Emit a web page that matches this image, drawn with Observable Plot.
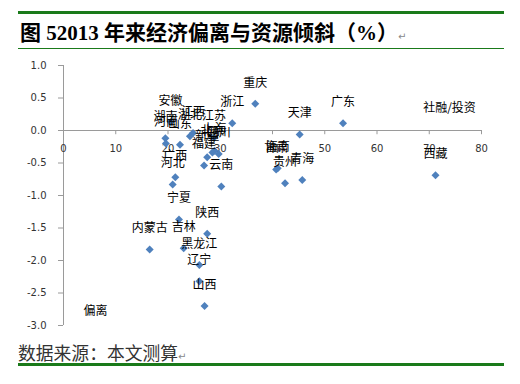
<!DOCTYPE html>
<html><head><meta charset="utf-8">
<script src="https://cdn.jsdelivr.net/npm/d3@7"></script>
<script src="https://cdn.jsdelivr.net/npm/@observablehq/plot@0.6"></script>
<style>
body{margin:0;background:#fff;}
#wrap{position:relative;width:520px;height:384px;overflow:hidden;background:#fff;}
.rule{position:absolute;left:18px;width:486px;background:#1a7a1a;}
#title{position:absolute;left:20px;top:16px;font:bold 21px "Liberation Serif","Noto Sans CJK SC";color:#000;white-space:nowrap;}
#caption{position:absolute;left:18px;top:339px;font:17.8px "Noto Sans CJK SC";color:#333;white-space:nowrap;}
.ret{font:10px "DejaVu Sans";color:#888;font-weight:normal;}
#chart{position:absolute;left:0;top:50px;}
</style></head>
<body>
<div id="wrap">
  <div class="rule" style="top:11px;height:3px;"></div>
  <div id="title">图 52013 年来经济偏离与资源倾斜（%）<span class="ret">↵</span></div>
  <div class="rule" style="top:48px;height:1px;"></div>
  <div id="chart"></div>
  <div id="caption">数据来源：本文测算<span class="ret">↵</span></div>
  <div class="rule" style="top:363px;height:3px;"></div>
</div>
<script>
const provinces = ["重庆","浙江","广东","天津","安徽","湖南","河南","山东","湖北","江西","江苏","上海","北京","四川","新疆","福建","云南","广西","河北","宁夏","陕西","内蒙古","吉林","黑龙江","辽宁","山西","甘肃","海南","贵州","青海","西藏"];
const xValues = [36.7,32.3,53.5,45.2,20.5,19.5,19.6,22.3,24.2,24.8,28.8,28.9,28.5,29.7,27.5,26.9,30.2,21.4,20.9,22.1,27.5,16.5,23.0,26.0,26.0,27.0,40.7,41.0,42.4,45.7,71.2];
const yValues = [0.41,0.11,0.11,-0.06,0.13,-0.12,-0.20,-0.22,-0.09,-0.04,-0.11,-0.31,-0.34,-0.36,-0.41,-0.54,-0.86,-0.72,-0.83,-1.37,-1.59,-1.83,-1.81,-2.07,-2.32,-2.70,-0.60,-0.58,-0.81,-0.76,-0.69];
const xTicks = [0,10,20,30,40,50,60,70,80];
const yTicks = [-3,-2.5,-2,-1.5,-1,-0.5,0,0.5,1];
const xTitle = "社融/投资";
const yTitle = "偏离";

const data = provinces.map((p,i)=>({name:p,x:xValues[i],y:yValues[i]}));
const axisGray = "#9a9a9a";
const textGray = "#333";
const cjk = "Noto Sans CJK SC";

const chart = Plot.plot({
  width:520, height:290,
  marginLeft:63, marginRight:39, marginTop:15, marginBottom:15,
  x:{domain:[0,80], axis:null},
  y:{domain:[-3,1], axis:null},
  style:{fontFamily:"DejaVu Sans", fontSize:"10px", background:"white", color:"#000"},
  marks:[
    Plot.ruleX([0],{stroke:axisGray}),
    Plot.axisY(yTicks,{tickSize:5, tickPadding:12, tickFormat:d=>d.toFixed(1), stroke:axisGray, fill:textGray, label:null}),
    Plot.ruleY([0],{stroke:axisGray}),
    Plot.ruleX(xTicks.filter(d=>d>0),{x:d=>d, y1:0, y2:-0.065, stroke:axisGray}),
    Plot.text(xTicks,{x:d=>d, y:0, dy:18, text:d=>String(d), fill:textGray}),
    Plot.dot(data,{x:"x",y:"y",symbol:"diamond2",r:3.6,fill:"#4F81BD",stroke:null}),
    Plot.text(data,{x:"x",y:"y",text:"name",dy:-21,fontFamily:cjk,fontSize:12,fill:"#000"}),
    Plot.text([xTitle],{text:d=>d,frameAnchor:"top-right",dx:-32,dy:38,textAnchor:"middle",fontFamily:cjk,fontSize:12,fill:"#000"}),
    Plot.text([yTitle],{text:d=>d,frameAnchor:"bottom-left",dx:32,dy:-11,textAnchor:"middle",fontFamily:cjk,fontSize:12,fill:"#000"})
  ]
});
document.getElementById("chart").appendChild(chart);
</script>
</body></html>
